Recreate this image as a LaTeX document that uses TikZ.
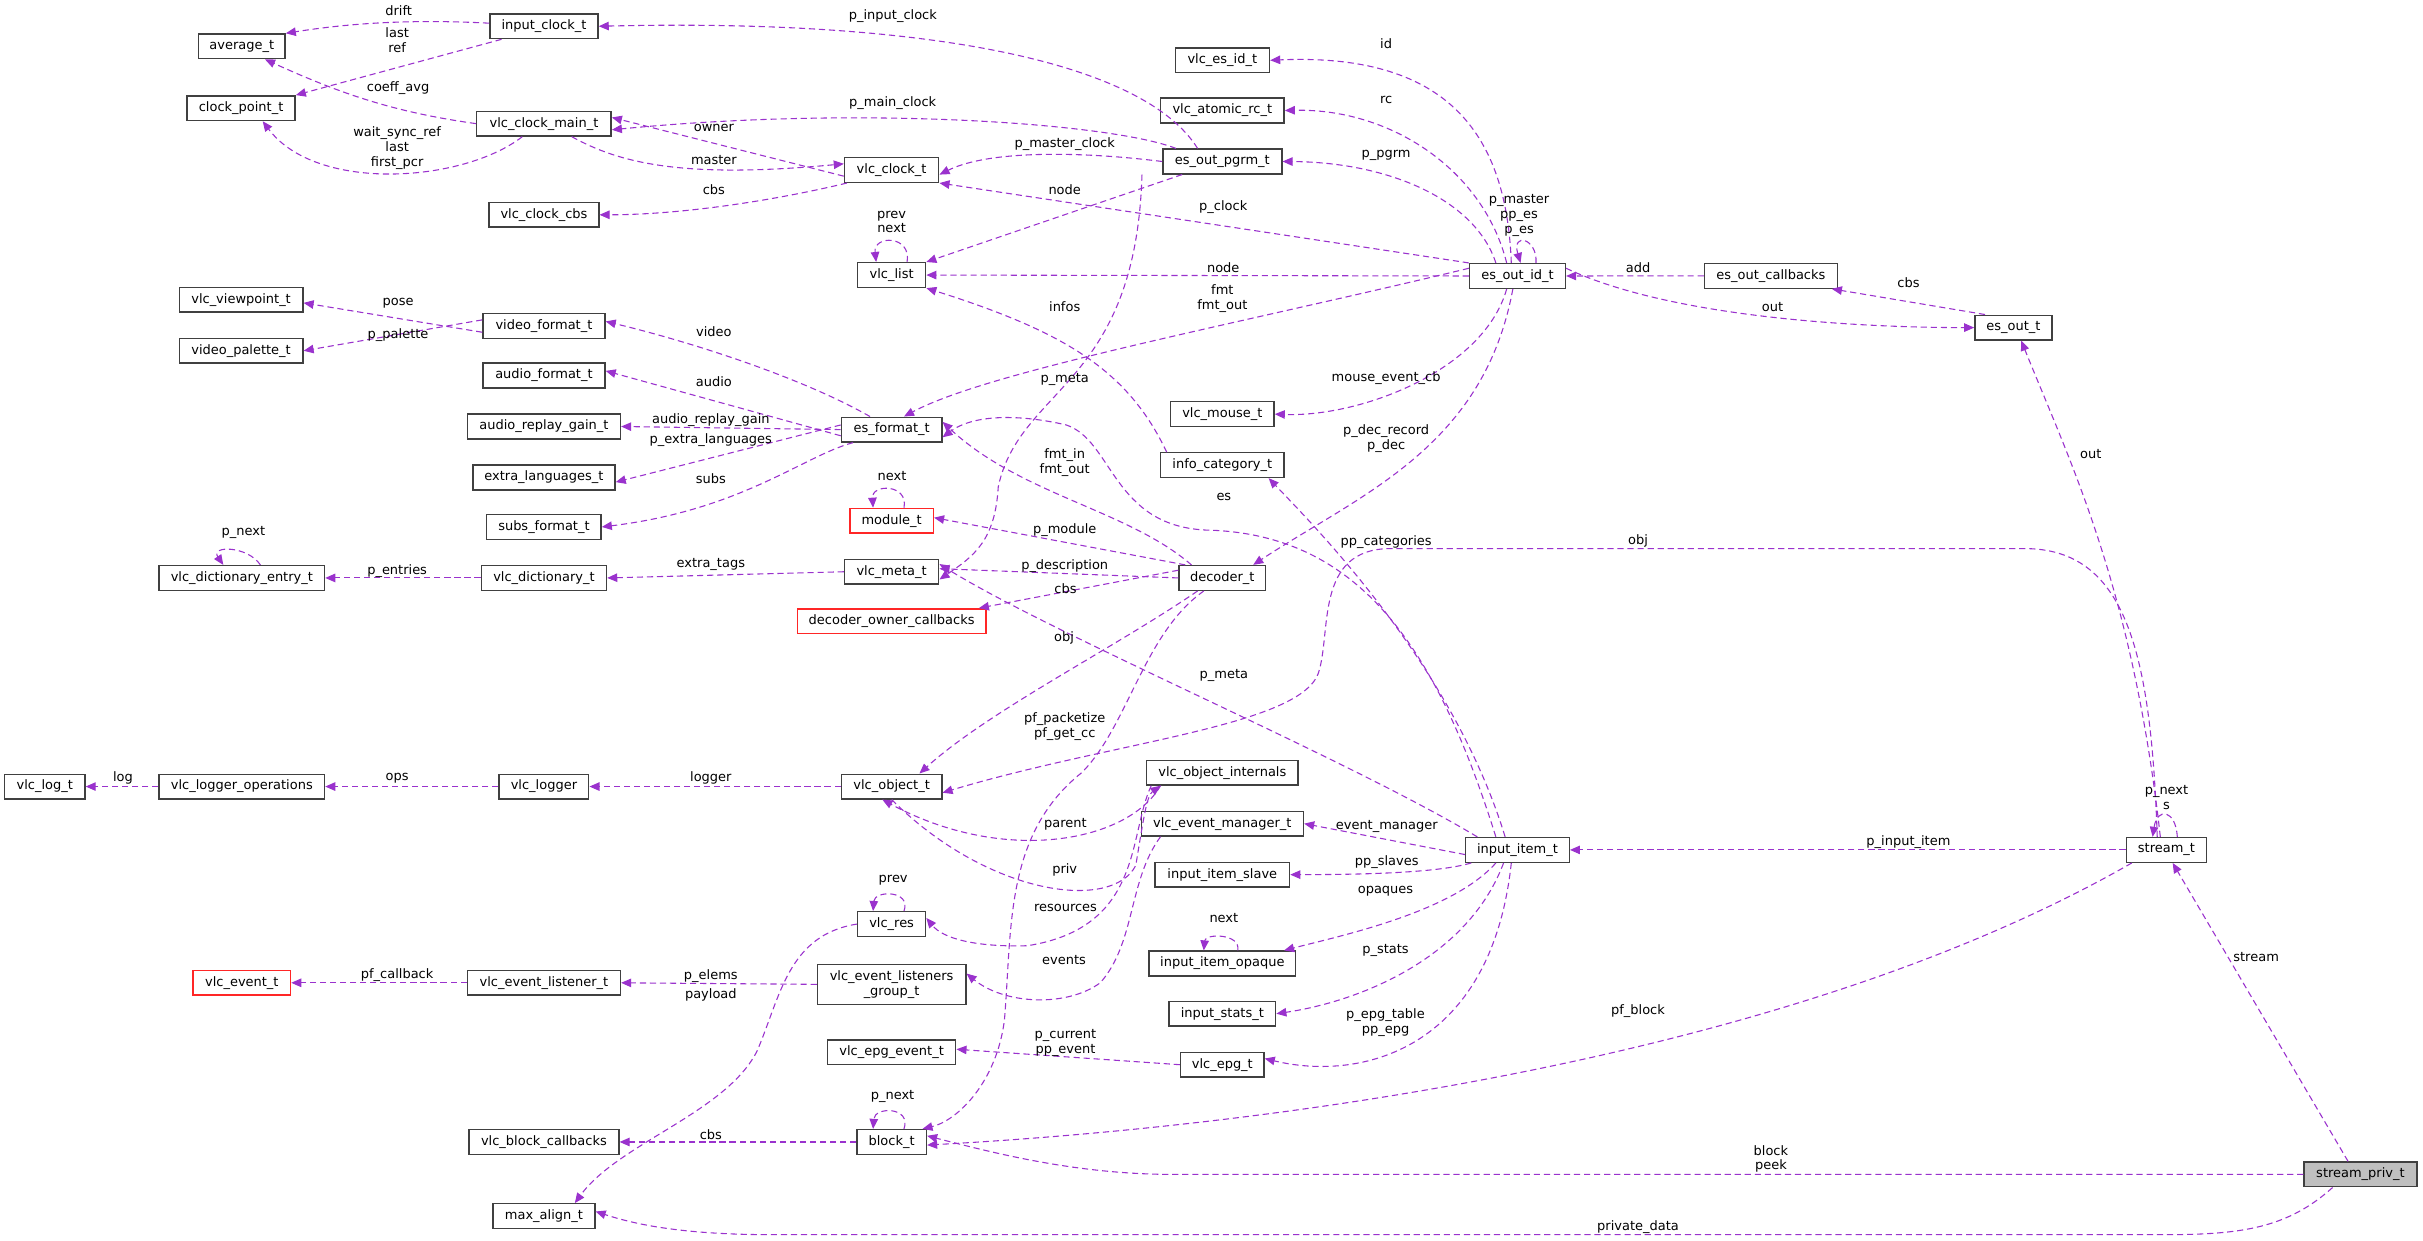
\documentclass[tikz,border=0pt]{standalone}
\usepackage{fontspec}
\setmainfont{DejaVu Sans}
\usetikzlibrary{arrows.meta}
\definecolor{edgec}{HTML}{9A32CD}
\begin{document}
\begin{tikzpicture}[x=1pt,y=-1pt,
  box/.style={draw=black!75,line width=0.9pt,fill=white,font=\fontsize{8.4}{9.6}\selectfont,minimum height=16pt,inner xsep=2pt,inner ysep=0pt,align=center},
  redbox/.style={box,draw=red!85},
  e/.style={draw=edgec,line width=0.7pt,dash pattern=on 4pt off 2.5pt,-{Triangle[length=6.5pt,width=5.5pt]}},
  lab/.style={font=\fontsize{8.4}{9.6}\selectfont,align=center,inner sep=0pt}]
\useasboundingbox (0,0) rectangle (1568,803);
% nodes
\node[box,minimum width=56] (avg) at (156.5,30) {average\_t};
\node[box,minimum width=70] (cpt) at (156,70) {clock\_point\_t};
\node[box,minimum width=70] (inclk) at (352,17) {input\_clock\_t};
\node[box,minimum width=87] (cmain) at (352,80) {vlc\_clock\_main\_t};
\node[box,minimum width=71] (ccbs) at (352,139) {vlc\_clock\_cbs};
\node[box,minimum width=80] (vpt) at (156,194) {vlc\_viewpoint\_t};
\node[box,minimum width=80] (vpal) at (156,227) {video\_palette\_t};
\node[box,minimum width=79] (vfmt) at (352,211) {video\_format\_t};
\node[box,minimum width=79] (afmt) at (352,243) {audio\_format\_t};
\node[box,minimum width=99] (argain) at (352,276) {audio\_replay\_gain\_t};
\node[box,minimum width=92] (xlang) at (352,309) {extra\_languages\_t};
\node[box,minimum width=74] (subs) at (352,341) {subs\_format\_t};
\node[box,minimum width=107] (dent) at (156.5,374) {vlc\_dictionary\_entry\_t};
\node[box,minimum width=81] (dict) at (352,374) {vlc\_dictionary\_t};
\node[box,minimum width=61] (meta) at (577,370) {vlc\_meta\_t};
\node[redbox,minimum width=122] (doc) at (577,402) {decoder\_owner\_callbacks};
\node[box,minimum width=52] (log) at (29,509) {vlc\_log\_t};
\node[box,minimum width=107] (logops) at (156.5,509) {vlc\_logger\_operations};
\node[box,minimum width=58] (logger) at (352,509) {vlc\_logger};
\node[box,minimum width=65] (obj) at (577,509) {vlc\_object\_t};
\node[box,minimum width=44] (res) at (577,598) {vlc\_res};
\node[redbox,minimum width=63] (evt) at (156.5,636) {vlc\_event\_t};
\node[box,minimum width=99] (evl) at (352,636) {vlc\_event\_listener\_t};
\node[box,minimum width=96,minimum height=26] (evlg) at (577,637) {vlc\_event\_listeners\\\_group\_t};
\node[box,minimum width=83] (epgev) at (577,681) {vlc\_epg\_event\_t};
\node[box,minimum width=45] (block) at (577,739) {block\_t};
\node[box,minimum width=97] (bcb) at (352,739) {vlc\_block\_callbacks};
\node[box,minimum width=66] (maxa) at (352,787) {max\_align\_t};
\node[box,minimum width=61] (esid) at (791,39) {vlc\_es\_id\_t};
\node[box,minimum width=80] (arc) at (791,71.5) {vlc\_atomic\_rc\_t};
\node[box,minimum width=77] (pgrm) at (791,104.5) {es\_out\_pgrm\_t};
\node[box,minimum width=61] (clk) at (577,110) {vlc\_clock\_t};
\node[box,minimum width=44] (list) at (577,178) {vlc\_list};
\node[box,minimum width=62] (esoid) at (982,178.6) {es\_out\_id\_t};
\node[box,minimum width=65] (esfmt) at (577,278) {es\_format\_t};
\node[redbox,minimum width=54] (module) at (577,337) {module\_t};
\node[box,minimum width=67] (mouse) at (791,268) {vlc\_mouse\_t};
\node[box,minimum width=80] (infoc) at (791,301) {info\_category\_t};
\node[box,minimum width=56] (dec) at (791,374) {decoder\_t};
\node[box,minimum width=86] (eocb) at (1146,178.5) {es\_out\_callbacks};
\node[box,minimum width=50] (esout) at (1303,212) {es\_out\_t};
\node[box,minimum width=52] (stream) at (1402,550) {stream\_t};
\node[box,minimum width=98] (oint) at (791,500) {vlc\_object\_internals};
\node[box,minimum width=105] (evm) at (791,533) {vlc\_event\_manager\_t};
\node[box,minimum width=87] (slave) at (791,566) {input\_item\_slave};
\node[box,minimum width=95] (opq) at (791,623.5) {input\_item\_opaque};
\node[box,minimum width=69] (stats) at (791,656) {input\_stats\_t};
\node[box,minimum width=54] (epg) at (791,689) {vlc\_epg\_t};
\node[box,minimum width=67] (item) at (982,550) {input\_item\_t};
\node[box,minimum width=73,fill=black!25] (spriv) at (1527.5,760) {stream\_priv\_t};
% edges: clocks
\draw[e] ([yshift=2]inclk.west) .. controls (260,12) and (220,16) .. (avg.north east);
\draw[e] ([xshift=8]inclk.south west) -- (cpt.north east);
\draw[e] (cmain.west) .. controls (250,72) and (215,58) .. ([xshift=15]avg.south);
\draw[e] ([xshift=-14]cmain.south) .. controls (300,118) and (205,125) .. ([xshift=14]cpt.south);
\draw[e] ([xshift=-16]pgrm.north) .. controls (740,40) and (600,12) .. (inclk.east);
\draw[e] ([xshift=-30]pgrm.north) .. controls (720,80) and (560,68) .. ([yshift=-4]cmain.east);
\draw[e] ([yshift=-4]clk.west) -- ([yshift=4]cmain.east);
\draw[e] ([xshift=18]cmain.south) .. controls (400,105) and (440,116) .. ([yshift=4]clk.west);
\draw[e] ([xshift=2]clk.south west) .. controls (500,130) and (440,139) .. (ccbs.east);
\draw[e] (pgrm.west) .. controls (700,98) and (640,97) .. ([yshift=-3]clk.east);
\draw[e] ([xshift=-26]pgrm.south) -- (list.north east);
\draw[e] (esoid.north west) -- (clk.south east);
\draw[e] (esoid.west) -- (list.east);
\draw[e] ([yshift=5]esoid.west) .. controls (800,210) and (640,240) .. ([xshift=8]esfmt.north);
\draw[e] ([xshift=10]list.north) .. controls (590,152) and (565,152) .. ([xshift=-10]list.north);
\draw[e] ([xshift=-36]infoc.north) .. controls (730,240) and (690,215) .. (list.south east);
\draw[e] ([xshift=-52]pgrm.south) .. controls (735,250) and (660,250) .. (646,315) .. controls (644,350) and (630,360) .. ([yshift=-5]meta.east);
\draw[e] ([xshift=-4]esoid.north) .. controls (975,90) and (940,34) .. (esid.east);
\draw[e] ([xshift=-7]esoid.north) .. controls (960,110) and (900,70) .. (arc.east);
\draw[e] ([xshift=-14]esoid.north) .. controls (955,130) and (900,105) .. (pgrm.east);
\draw[e] ([xshift=12]esoid.north) .. controls (995,154) and (978,150) .. ([xshift=2]esoid.north);
\draw[e] ([xshift=-7]esoid.south) .. controls (960,240) and (880,270) .. (mouse.east);
\draw[e] ([xshift=-3]esoid.south) .. controls (960,290) and (880,320) .. ([xshift=20]dec.north);
\draw[e] (eocb.west) -- (esoid.east);
\draw[e] ([yshift=5]esoid.east) .. controls (1080,205) and (1200,212) .. (esout.west);
\draw[e] ([xshift=7]esout.north west) -- ([xshift=-4]eocb.south east);
\draw[e] ([xshift=-4]stream.north) .. controls (1380,380) and (1340,300) .. ([xshift=5]esout.south);
\draw[e] ([xshift=-6]stream.north) .. controls (1392,420) and (1375,355) .. (1310,355) -- (900,355) .. controls (850,355) and (862,410) .. (853,436) .. controls (840,470) and (720,480) .. ([yshift=-4]obj.east);
\draw[e] (stream.west) -- (item.east);
\draw[e] ([xshift=7]stream.north) .. controls (1408,524) and (1396,522) .. ([xshift=-9]stream.north);
\draw[e] ([xshift=-8]spriv.north) -- ([xshift=4]stream.south);
\draw[e] ([xshift=4]stream.south west) .. controls (1150,690) and (800,730) .. ([yshift=-2]block.east);
\draw[e] (spriv.west) -- (760,760) .. controls (700,760) and (650,748) .. ([yshift=4]block.east);
\draw[e] ([xshift=-18]spriv.south) .. controls (1480,795) and (1450,799) .. (1400,799) -- (500,799) .. controls (440,799) and (410,792) .. ([yshift=3]maxa.east);
% decoder
\draw[e] ([xshift=-20]dec.north) .. controls (730,330) and (660,320) .. ([yshift=5]esfmt.east);
\draw[e] ([xshift=-24]dec.north) -- ([yshift=2]module.east);
\draw[e] (dec.west) -- ([yshift=2]meta.east);
\draw[e] ([yshift=5]dec.west) -- ([xshift=-5]doc.north east);
\draw[e] ([xshift=-16]dec.south) .. controls (720,420) and (640,460) .. ([xshift=18]obj.north);
\draw[e] ([xshift=-12]dec.south) .. controls (740,410) and (730,470) .. (700,500) .. controls (650,540) and (655,600) .. (650,660) .. controls (645,700) and (620,725) .. ([xshift=-3]block.north east);
\draw[e] ([xshift=-26]item.north) .. controls (870,490) and (680,410) .. ([yshift=5]meta.east);
\draw[e] ([xshift=-14]item.north) .. controls (930,420) and (880,345) .. (780,343) .. controls (720,340) and (720,285) .. (690,275) .. controls (660,268) and (630,268) .. ([yshift=-5]esfmt.east);
\draw[e] ([xshift=-8]item.north) .. controls (940,430) and (850,340) .. ([xshift=30]infoc.south);
\draw[e] ([yshift=-3]item.west) -- (evm.east);
\draw[e] ([xshift=4]item.south west) .. controls (930,565) and (880,566) .. (slave.east);
\draw[e] ([xshift=-14]item.south) .. controls (940,590) and (870,605) .. ([xshift=-8]opq.north east);
\draw[e] ([xshift=-9]item.south) .. controls (950,620) and (880,648) .. (stats.east);
\draw[e] ([xshift=-4]item.south) .. controls (965,680) and (880,700) .. ([yshift=4]epg.east);
\draw[e] (epg.west) -- ([yshift=2]epgev.east);
\draw[e] ([xshift=10]opq.north) .. controls (803,604) and (780,604) .. ([xshift=-12]opq.north);
% object internals
\draw[e] ([xshift=-40]oint.south) .. controls (730,545) and (650,560) .. ([xshift=-6]obj.south);
\draw[e] (obj.south) .. controls (640,580) and (720,590) .. (735,560) .. controls (740,530) and (742,515) .. ([xshift=-40]oint.south);
\draw[e] ([xshift=-46]oint.south) .. controls (730,540) and (740,600) .. (665,612) .. controls (630,613) and (610,607) .. ([yshift=4]res.east);
\draw[e] ([xshift=-40]evm.south) .. controls (730,570) and (735,610) .. (712,636) .. controls (690,652) and (650,650) .. ([yshift=7]evlg.east);
\draw[e] ([xshift=8]res.north) .. controls (590,576) and (566,576) .. ([xshift=-12]res.north);
\draw[e] (res.west) .. controls (510,605) and (505,645) .. (490,680) .. controls (470,720) and (400,740) .. ([xshift=20]maxa.north);
\draw[e] (evlg.west) -- (evl.east);
\draw[e] (evl.west) -- (evt.east);
\draw[e] ([xshift=8]block.north) .. controls (590,716) and (566,716) .. ([xshift=-12]block.north);
\draw[e] (block.west) -- (bcb.east);
% left
\draw[e] (obj.west) -- (logger.east);
\draw[e] (logger.west) -- (logops.east);
\draw[e] (logops.west) -- (log.east);
\draw[e] (dict.west) -- (dent.east);
\draw[e] (meta.west) -- (dict.east);
\draw[e] ([xshift=12]dent.north) .. controls (160,353) and (136,353) .. ([xshift=-12]dent.north);
\draw[e] ([xshift=8]module.north) .. controls (588,313) and (564,313) .. ([xshift=-12]module.north);
\draw[e] ([xshift=-14]esfmt.north) .. controls (520,245) and (450,222) .. ([yshift=3]vfmt.east);
\draw[e] ([yshift=-4]esfmt.west) -- ([yshift=3]afmt.east);
\draw[e] (esfmt.west) -- (argain.east);
\draw[e] ([yshift=3]esfmt.west) -- ([yshift=-3]xlang.east);
\draw[e] ([xshift=8]esfmt.south west) .. controls (520,295) and (480,330) .. (subs.east);
\draw[e] ([yshift=-4]vfmt.west) -- ([yshift=-2]vpt.east);
\draw[e] ([yshift=4]vfmt.west) -- (vpal.east);
% labels
\node[lab] (l1) at (258,7) {drift};
\node[lab] (l2) at (257,26) {last\\ref};
\node[lab] (l3) at (257.6,57) {coeff\_avg};
\node[lab] (l4) at (257,96) {wait\_sync\_ref\\last\\first\_pcr};
\node[lab] (l5) at (577.8,10.7) {p\_input\_clock};
\node[lab] (l6) at (577.7,66.9) {p\_main\_clock};
\node[lab] (l7) at (462,83) {owner};
\node[lab] (l8) at (462,103.5) {master};
\node[lab] (l9) at (462,123) {cbs};
\node[lab] (l10) at (689,93) {p\_master\_clock};
\node[lab] (l11) at (689,123) {node};
\node[lab] (l12) at (791.6,134) {p\_clock};
\node[lab] (l13) at (791.6,173) {node};
\node[lab] (l14) at (791,193) {fmt\\fmt\_out};
\node[lab] (l15) at (577,143.6) {prev\\next};
\node[lab] (l16) at (689,198.6) {infos};
\node[lab] (l17) at (689,245.6) {p\_meta};
\node[lab] (l18) at (897,28.5) {id};
\node[lab] (l19) at (897,65) {rc};
\node[lab] (l20) at (897,100.8) {p\_pgrm};
\node[lab] (l21) at (983,139.4) {p\_master\\pp\_es\\p\_es};
\node[lab] (l22) at (897,245) {mouse\_event\_cb};
\node[lab] (l23) at (897,284) {p\_dec\_record\\p\_dec};
\node[lab] (l24) at (1060,173) {add};
\node[lab] (l25) at (1147,199) {out};
\node[lab] (l26) at (1235,183) {cbs};
\node[lab] (l27) at (1353,294) {out};
\node[lab] (l28) at (1060,350) {obj};
\node[lab] (l29) at (1235,545) {p\_input\_item};
\node[lab] (l30) at (1402,516) {p\_next\\s};
\node[lab] (l31) at (1460,619) {stream};
\node[lab] (l32) at (1060,654.5) {pf\_block};
\node[lab] (l33) at (1146,750) {block\\peek};
\node[lab] (l34) at (1060,794) {private\_data};
\node[lab] (l35) at (689,299.6) {fmt\_in\\fmt\_out};
\node[lab] (l36) at (689,343) {p\_module};
\node[lab] (l37) at (689,366.5) {p\_description};
\node[lab] (l38) at (689.5,380.7) {cbs};
\node[lab] (l39) at (688.6,413) {obj};
\node[lab] (l40) at (689,470) {pf\_packetize\\pf\_get\_cc};
\node[lab] (l41) at (792,437) {p\_meta};
\node[lab] (l42) at (792,321.4) {es};
\node[lab] (l43) at (897,351) {pp\_categories};
\node[lab] (l44) at (897.4,535) {event\_manager};
\node[lab] (l45) at (897.4,558.2) {pp\_slaves};
\node[lab] (l46) at (896.6,576.5) {opaques};
\node[lab] (l47) at (792,594) {next};
\node[lab] (l48) at (896.6,615) {p\_stats};
\node[lab] (l49) at (896.6,662) {p\_epg\_table\\pp\_epg};
\node[lab] (l50) at (689.5,675) {p\_current\\pp\_event};
\node[lab] (l51) at (689.5,533.4) {parent};
\node[lab] (l52) at (689,563) {priv};
\node[lab] (l53) at (689.5,587.3) {resources};
\node[lab] (l54) at (688.6,621) {events};
\node[lab] (l55) at (578,569.4) {prev};
\node[lab] (l56) at (460,644) {payload};
\node[lab] (l57) at (460,631.6) {p\_elems};
\node[lab] (l58) at (257,631) {pf\_callback};
\node[lab] (l59) at (577.6,709.8) {p\_next};
\node[lab] (l60) at (460,734) {cbs};
\node[lab] (l61) at (79.6,503.6) {log};
\node[lab] (l62) at (257,503.6) {ops};
\node[lab] (l63) at (460,503.6) {logger};
\node[lab] (l64) at (257,369.3) {p\_entries};
\node[lab] (l65) at (460,365.4) {extra\_tags};
\node[lab] (l66) at (157.5,344.3) {p\_next};
\node[lab] (l67) at (577.3,307.8) {next};
\node[lab] (l68) at (462,214.4) {video};
\node[lab] (l69) at (462,247) {audio};
\node[lab] (l70) at (460,271.6) {audio\_replay\_gain};
\node[lab] (l71) at (460,285) {p\_extra\_languages};
\node[lab] (l72) at (460,309.5) {subs};
\node[lab] (l73) at (257.6,196) {pose};
\node[lab] (l74) at (257.6,217) {p\_palette};
\end{tikzpicture}
\end{document}
